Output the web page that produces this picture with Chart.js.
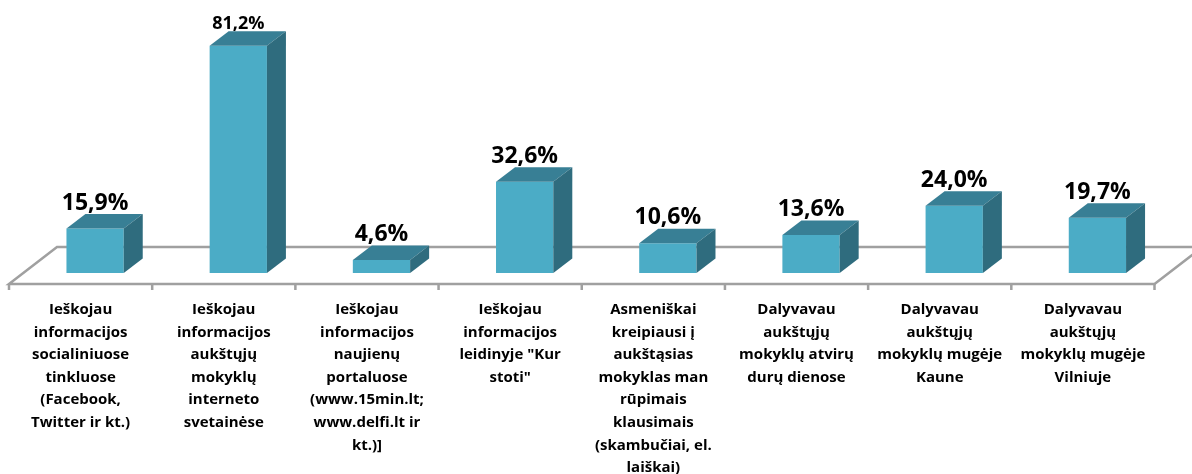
<!DOCTYPE html>
<html><head><meta charset="utf-8">
<style>html,body{margin:0;padding:0;background:#fff;overflow:hidden}canvas{display:block}</style>
<script src="https://cdn.jsdelivr.net/npm/chart.js@4"></script>
</head><body><canvas id="c" width="1192" height="474"></canvas>
<script>
const categories = [
  ["Ieškojau","informacijos","socialiniuose","tinkluose","(Facebook,","Twitter ir kt.)"],
  ["Ieškojau","informacijos","aukštųjų","mokyklų","interneto","svetainėse"],
  ["Ieškojau","informacijos","naujienų","portaluose","(www.15min.lt;","www.delfi.lt ir","kt.)]"],
  ["Ieškojau","informacijos","leidinyje \"Kur","stoti\""],
  ["Asmeniškai","kreipiausi į","aukštąsias","mokyklas man","rūpimais","klausimais","(skambučiai, el.","laiškai)"],
  ["Dalyvavau","aukštųjų","mokyklų atvirų","durų dienose"],
  ["Dalyvavau","aukštųjų","mokyklų mugėje","Kaune"],
  ["Dalyvavau","aukštųjų","mokyklų mugėje","Vilniuje"]
];
const values = [15.9, 81.2, 4.6, 32.6, 10.6, 13.6, 24.0, 19.7];

const DX = 19, DY = 14.5, SHIFT = 14.5;
const FONT = '"Open Sans", Lato, sans-serif';
const threeD = {
  id: 'threeD',
  beforeDatasetsDraw(chart) {
    const {ctx, scales: {x, y}} = chart;
    const y0 = y.getPixelForValue(0);
    const step = x.getPixelForTick(1) - x.getPixelForTick(0);
    const fl = x.left - SHIFT, fr = x.right - SHIFT, fy = y0 + 11, by = y0 - 26;
    ctx.save();
    ctx.strokeStyle = '#A0A0A0';
    ctx.lineWidth = 2.5;
    ctx.beginPath();
    ctx.moveTo(1192 + 2, by); ctx.lineTo(fl + 48, by); ctx.lineTo(fl, fy); ctx.lineTo(fr, fy);
    ctx.lineTo(fr + 48, by);
    ctx.stroke();
    ctx.beginPath();
    for (let i = 0; i <= values.length; i++) {
      const px = fl + i * step;
      ctx.moveTo(px, fy); ctx.lineTo(px, fy + 6);
    }
    ctx.stroke();
    ctx.restore();
  },
  afterDatasetsDraw(chart) {
    const {ctx} = chart;
    const y0 = chart.scales.y.getPixelForValue(0);
    chart.getDatasetMeta(0).data.forEach((b, i) => {
      const l = b.x - b.width / 2, r = b.x + b.width / 2, t = b.y;
      ctx.save();
      ctx.fillStyle = '#387F95';
      ctx.beginPath();
      ctx.moveTo(l, t); ctx.lineTo(l + DX, t - DY); ctx.lineTo(r + DX, t - DY); ctx.lineTo(r, t);
      ctx.closePath(); ctx.fill();
      ctx.fillStyle = '#2F6C7E';
      ctx.beginPath();
      ctx.moveTo(r, t); ctx.lineTo(r + DX, t - DY); ctx.lineTo(r + DX, y0 - DY); ctx.lineTo(r, y0);
      ctx.closePath(); ctx.fill();
      const big = values[i] > 80;
      ctx.fillStyle = '#000';
      ctx.font = 'bold ' + (big ? 18 : 23) + 'px ' + FONT;
      ctx.textAlign = 'center';
      ctx.textBaseline = 'middle';
      ctx.fillText(values[i].toFixed(1).replace('.', ',') + '%', b.x, t - DY - (big ? 7.5 : 11));
      ctx.restore();
    });
  }
};
new Chart(document.getElementById('c'), {
  type: 'bar',
  data: {labels: categories, datasets: [{data: values, backgroundColor: '#4BACC6', borderWidth: 0,
    categoryPercentage: 0.4, barPercentage: 1}]},
  plugins: [threeD],
  options: {
    responsive: false, animation: false,
    layout: {padding: {left: 23.5, right: 23, top: 21, bottom: 0}},
    plugins: {legend: {display: false}, tooltip: {enabled: false}},
    scales: {
      y: {display: false, min: 0, max: 90},
      x: {
        afterFit(s) { s.height = 201; },
        grid: {display: false}, border: {display: false},
        ticks: {autoSkip: false, maxRotation: 0, minRotation: 0, labelOffset: -SHIFT, padding: 17.5, color: '#000',
          font: {family: FONT, weight: 'bold', size: 15, lineHeight: 22.6 / 15}}
      }
    }
  }
});
</script></body></html>
